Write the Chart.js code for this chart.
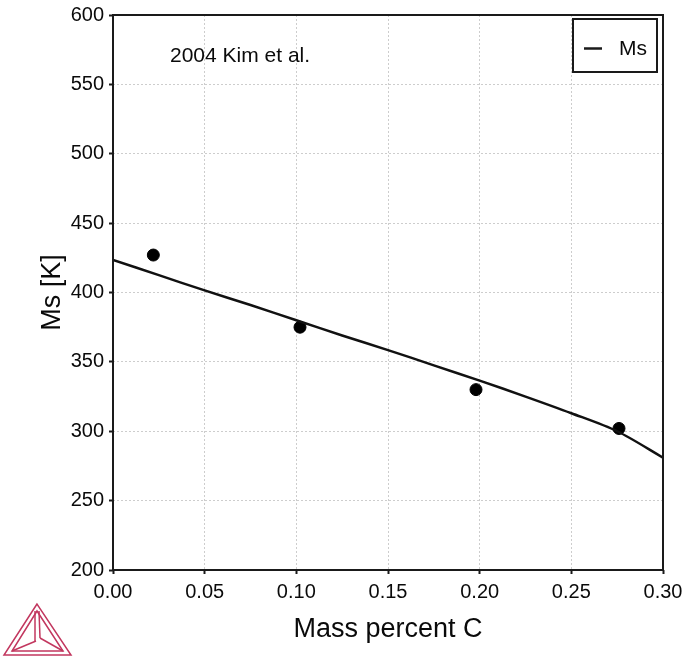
<!DOCTYPE html>
<html>
<head>
<meta charset="utf-8">
<script src="https://cdn.jsdelivr.net/npm/chart.js@4/dist/chart.umd.min.js"></script>
<style>
  html, body { margin: 0; padding: 0; background: #fff; }
  #wrap { position: relative; width: 687px; height: 659px; }
  #logo { position: absolute; left: 0; top: 0; pointer-events: none; }
</style>
</head>
<body>
<div id="wrap">
  <canvas id="c" width="687" height="659"></canvas>
  <svg id="logo" width="687" height="659" xmlns="http://www.w3.org/2000/svg">
    <g fill="none" stroke="#c2375f" stroke-width="1.5" stroke-linejoin="miter">
      <polygon points="37,604 4,655 71,655"/>
      <polygon points="37,611 12,651 63,651"/>
      <line x1="35" y1="611" x2="35" y2="641"/>
      <line x1="39" y1="611" x2="40" y2="638"/>
      <line x1="36" y1="641" x2="12" y2="651"/>
      <line x1="40" y1="638" x2="63" y2="651"/>
    </g>
  </svg>
</div>
<script>
// ---- data ----
const seriesLabel = 'Ms';
const annotationText = '2004 Kim et al.';
const xTitle = 'Mass percent C';
const yTitle = 'Ms [K]';

const calcC  = [0, 0.025, 0.05, 0.075, 0.10, 0.125, 0.15, 0.175, 0.20, 0.225, 0.25, 0.275, 0.30];
const calcMs = [423.5, 412.5, 401.5, 391, 380, 369, 358.5, 347.5, 336.5, 325, 313, 300, 281];

const expC  = [0.022, 0.102, 0.198, 0.276];
const expMs = [427, 375, 330, 302];

const xMin = 0, xMax = 0.30, xStep = 0.05;
const yMin = 200, yMax = 600, yStep = 50;

const FONT = "'Liberation Sans', Arial, Helvetica, sans-serif";
const TXT = '#0a0a0a';

const framePlugin = {
  id: 'frame',
  afterDatasetsDraw(chart) {
    const { ctx, chartArea: a } = chart;
    ctx.save();
    ctx.strokeStyle = '#1a1a1a';
    ctx.lineWidth = 2;
    ctx.strokeRect(a.left, a.top, a.right - a.left, a.bottom - a.top);
    // annotation
    ctx.fillStyle = TXT;
    ctx.font = '21px ' + FONT;
    ctx.textBaseline = 'alphabetic';
    ctx.textAlign = 'left';
    ctx.fillText(annotationText, 170, 62);
    // legend box
    const lx = 573, ly = 19, lw = 84, lh = 53;
    ctx.fillStyle = '#fff';
    ctx.fillRect(lx, ly, lw, lh);
    ctx.strokeStyle = '#1a1a1a';
    ctx.lineWidth = 2;
    ctx.strokeRect(lx, ly, lw, lh);
    ctx.beginPath();
    ctx.lineWidth = 2.5;
    ctx.moveTo(584, 48.5);
    ctx.lineTo(602, 48.5);
    ctx.stroke();
    ctx.fillStyle = TXT;
    ctx.font = '21px ' + FONT;
    ctx.textBaseline = 'middle';
    ctx.fillText(chart.data.datasets[0].label, 619, 49);
    ctx.restore();
  }
};

new Chart(document.getElementById('c'), {
  type: 'scatter',
  data: {
    datasets: [
      {
        label: seriesLabel,
        data: calcC.map((x, i) => ({ x, y: calcMs[i] })),
        showLine: true,
        borderColor: '#111',
        borderWidth: 2.5,
        pointRadius: 0,
        tension: 0.3,
        fill: false
      },
      {
        label: 'exp',
        data: expC.map((x, i) => ({ x, y: expMs[i] })),
        showLine: false,
        backgroundColor: '#000',
        borderColor: '#000',
        pointRadius: 6,
        pointHoverRadius: 6
      }
    ]
  },
  options: {
    responsive: false,
    animation: false,
    devicePixelRatio: 1,
    layout: { padding: { left: 0, right: 24, top: 15, bottom: 0 } },
    plugins: { legend: { display: false }, tooltip: { enabled: false } },
    scales: {
      x: {
        type: 'linear',
        min: xMin, max: xMax,
        ticks: {
          stepSize: xStep,
          padding: 6,
          color: TXT,
          font: { family: FONT, size: 20 },
          callback: v => Number(v).toFixed(2)
        },
        grid: { color: '#cdcdcd', lineWidth: 1, tickColor: '#1a1a1a', tickLength: 4, tickWidth: 2 },
        border: { display: false, dash: [2, 2] },
        title: { display: true, text: xTitle, color: TXT, font: { family: FONT, size: 27 }, padding: { top: 0, bottom: 13 } },
        afterFit(s) { s.height = 89; s.paddingLeft = 0; s.paddingRight = 0; s.paddingTop = 0; s.paddingBottom = 0; }
      },
      y: {
        type: 'linear',
        min: yMin, max: yMax,
        ticks: {
          stepSize: yStep,
          padding: 5,
          color: TXT,
          font: { family: FONT, size: 20 }
        },
        grid: { color: '#cdcdcd', lineWidth: 1, tickColor: '#1a1a1a', tickLength: 4, tickWidth: 2 },
        border: { display: false, dash: [2, 2] },
        title: { display: true, text: yTitle, color: TXT, font: { family: FONT, size: 27 }, padding: { top: 36, bottom: 0 } },
        afterFit(s) { s.width = 113; s.paddingLeft = 0; s.paddingRight = 0; s.paddingTop = 0; s.paddingBottom = 0; }
      }
    }
  },
  plugins: [framePlugin]
});
</script>
</body>
</html>
